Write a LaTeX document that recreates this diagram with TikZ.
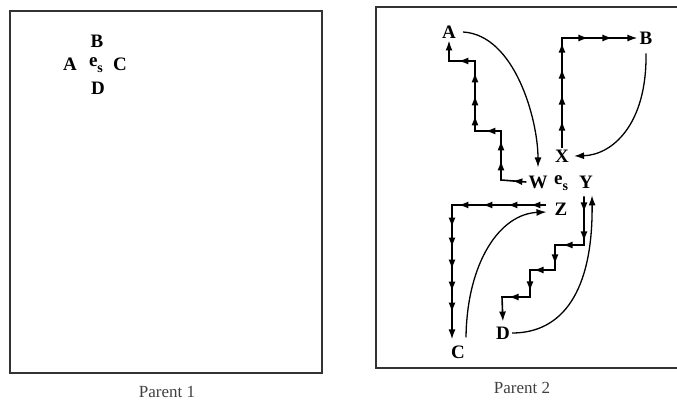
\documentclass[tikz,border=0pt]{standalone}
\usepackage{fontspec}
\setmainfont{Liberation Serif}
\usetikzlibrary{arrows.meta,decorations.markings}

% subscripted symbol e_s
\newcommand{\esym}{e\raisebox{-0.7ex}{\fontsize{14}{14}\selectfont s}}

\tikzset{
  >={Latex[length=10pt,width=7pt]},
  frame/.style={draw=black!80, line width=1.8pt},
  lbl/.style={font=\bfseries\fontsize{19}{19}\selectfont, inner sep=2pt},
  caption/.style={font=\fontsize{17}{17}\selectfont, text=black!75, inner sep=0pt},
  walk/.style={draw, line width=1.6pt, ->},
  jump/.style={draw, line width=1.3pt, ->},
  tipat/.style={postaction={decorate,decoration={markings,
      mark=at position #1 with {\arrow{Latex[length=10pt,width=7pt]}}}}},
  tips/.style={tipat/.list={#1}}
}

\begin{document}
\begin{tikzpicture}[x=1pt,y=-1pt]
\useasboundingbox (0,0) rectangle (677,405);
\clip (0,0) rectangle (677,405);

% ---------- Parent 1 ----------
\draw[frame] (10,11) rectangle (322,373);
\node[lbl] (pB) at (97,41) {B};
\node[lbl] (pA) at (70,64) {A};
\node[lbl] (pE) at (96,65) {\esym};
\node[lbl] (pC) at (120,64) {C};
\node[lbl] (pD) at (98,88) {D};
\node[caption] (cap1) at (167,392) {Parent 1};

% ---------- Parent 2 ----------
\draw[frame] (376,7) rectangle (690,368);
\node[caption] (cap2) at (522,388) {Parent 2};

\node[lbl] (A) at (449,32) {A};
\node[lbl] (B) at (646,38) {B};
\node[lbl] (X) at (562,156) {X};
\node[lbl] (W) at (538,182) {W};
\node[lbl] (E) at (561,183) {\esym};
\node[lbl] (Y) at (586,182) {Y};
\node[lbl] (Z) at (561,209) {Z};
\node[lbl] (C) at (458,352) {C};
\node[lbl] (D) at (503,333) {D};

% step-by-step walks
\draw[walk, tips={14pt,45pt,65pt,90pt,116pt,136pt,159pt,187pt}]
  (W.west) -- (501,180) -- (501,131) -- (475,131) -- (475,61)
  -- (449,61) -- (A.south);

\draw[walk, tips={27pt,53pt,79pt,105pt,136pt,160pt}]
  (X.north) -- (562,38) -- (B.west);

\draw[walk, tips={16pt,39pt,64pt,88pt,117pt,137pt,159pt,181pt,202pt}, shorten >=4pt]
  ([xshift=-6pt,yshift=4pt]Z.west) -- (452,205) -- ([xshift=-6pt]C.north);

\draw[walk, tips={16pt,45pt,70pt,97pt,124pt,149pt,176pt}, shorten >=3pt]
  ([xshift=-2pt,yshift=-6pt]Y.south) -- (584,245) -- (555,245) -- (555,270)
  -- (530,270) -- (530,297) -- (502,297) -- (D.north);

% direct jumps
\draw[jump] ([xshift=5pt]A.east) .. controls (515,35) and (538,120) .. ([yshift=6pt]W.north);
\draw[jump] ([yshift=-7pt]B.south) .. controls (647,125) and (612,155) .. ([xshift=3pt]X.east);
\draw[jump] ([xshift=8pt,yshift=6pt]C.north) .. controls (467,262) and (500,214) .. ([shift={(-6pt,-3pt)}]Z.west);
\draw[jump] (D.east) .. controls (562,333) and (593,292) .. ([xshift=6pt,yshift=-5pt]Y.south);
\end{tikzpicture}
\end{document}
